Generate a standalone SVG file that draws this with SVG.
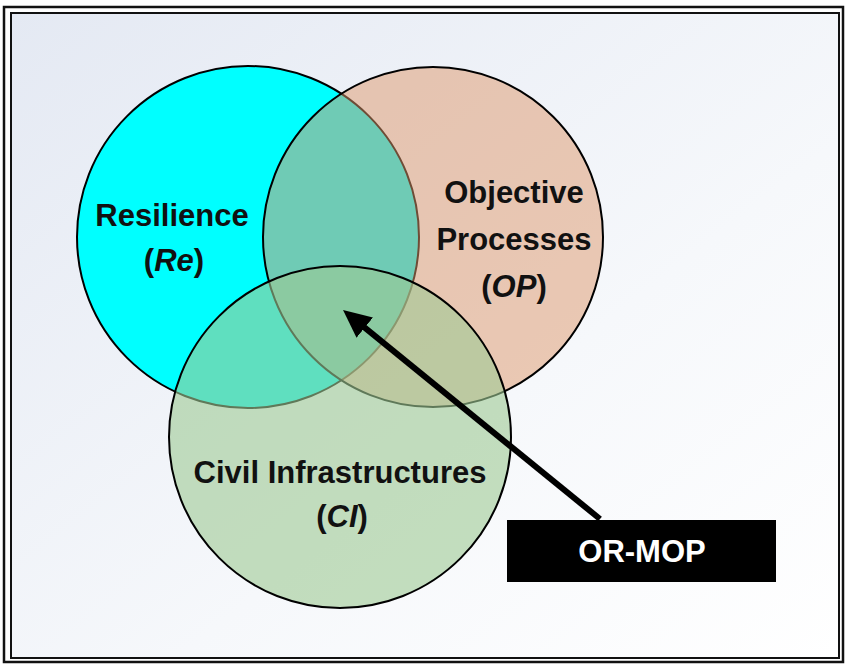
<svg xmlns="http://www.w3.org/2000/svg" width="845" height="665" viewBox="0 0 845 665">
  <defs>
    <linearGradient id="bg" x1="0" y1="0" x2="1" y2="1">
      <stop offset="0" stop-color="#e4e9f3"/>
      <stop offset="0.6" stop-color="#f6f8fb"/>
      <stop offset="1" stop-color="#ffffff"/>
    </linearGradient>
    <marker id="head" markerUnits="userSpaceOnUse" viewBox="0 0 28 26" refX="2" refY="13" markerWidth="28" markerHeight="26" orient="auto">
      <path d="M0,0 L28,13 L0,26 z" fill="#000"/>
    </marker>
    <style>
      .lbl { font-family: "Liberation Sans", Arial, sans-serif; font-weight: bold; font-size: 31px; fill: #111; text-anchor: middle; }
      .it { font-style: italic; }
      .circ { stroke: #000; stroke-width: 2; }
    </style>
  </defs>
  <rect x="0" y="0" width="845" height="665" fill="#ffffff"/>
  <rect x="11" y="13" width="828" height="645" fill="url(#bg)"/>
  <rect x="4" y="7" width="839" height="655" fill="none" stroke="#111" stroke-width="2.5"/>
  <rect x="11" y="13" width="828" height="645" fill="none" stroke="#111" stroke-width="2"/>

  <g id="node-re">
    <circle class="circ" cx="248" cy="237" r="171" fill="#00ffff"/>
  </g>
  <g id="node-op">
    <circle class="circ" cx="433" cy="237" r="170" fill="rgb(221,151,107)" fill-opacity="0.5"/>
  </g>
  <g id="node-ci">
    <circle class="circ" cx="340" cy="437" r="171" fill="rgb(158,202,148)" fill-opacity="0.6"/>
  </g>

  <g id="labels">
    <text class="lbl" x="172" y="226">Resilience</text>
    <text class="lbl" x="174" y="271">(<tspan class="it">Re</tspan>)</text>
    <text class="lbl" x="514" y="203">Objective</text>
    <text class="lbl" x="514" y="250">Processes</text>
    <text class="lbl" x="514" y="297">(<tspan class="it">OP</tspan>)</text>
    <text class="lbl" x="340" y="483">Civil Infrastructures</text>
    <text class="lbl" x="342" y="527">(<tspan class="it">CI</tspan>)</text>
  </g>

  <g id="connectors">
    <line x1="600" y1="519" x2="363.2" y2="326.4" stroke="#000" stroke-width="6" marker-end="url(#head)"/>
  </g>

  <g id="node-ormop">
    <rect x="507" y="520" width="269" height="62" fill="#000"/>
    <text class="lbl" x="642" y="562" style="fill:#fff">OR-MOP</text>
  </g>
</svg>
